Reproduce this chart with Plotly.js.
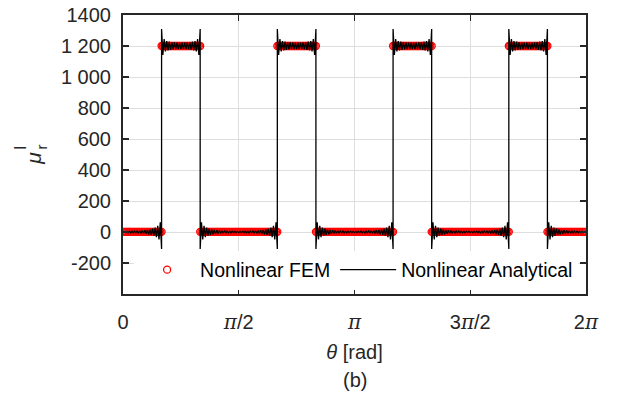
<!DOCTYPE html>
<html><head><meta charset="utf-8">
<script src="https://cdn.plot.ly/plotly-3.0.1.min.js"></script>
<style>html,body{margin:0;padding:0;background:#fff}</style>
</head><body><div id="chart" style="width:622px;height:396px"></div>
<script>
// rotor angle in degrees (axis labelled in radians); step angles appear twice (low and high side)
const theta = [
0,1,2,3,4,5,6,7,8,9,10,11,12,13,14,15,16,17,18,19,20,21,22,23,24,25,26,27,28,29,30,
30,31,32,33,34,35,36,37,38,39,40,41,42,43,44,45,46,47,48,49,50,51,52,53,54,55,56,57,58,59,60,
60,61,62,63,64,65,66,67,68,69,70,71,72,73,74,75,76,77,78,79,80,81,82,83,84,85,86,87,88,89,90,
91,92,93,94,95,96,97,98,99,100,101,102,103,104,105,106,107,108,109,110,111,112,113,114,115,116,117,118,119,120,
120,121,122,123,124,125,126,127,128,129,130,131,132,133,134,135,136,137,138,139,140,141,142,143,144,145,146,147,148,149,150,
150,151,152,153,154,155,156,157,158,159,160,161,162,163,164,165,166,167,168,169,170,171,172,173,174,175,176,177,178,179,180,
181,182,183,184,185,186,187,188,189,190,191,192,193,194,195,196,197,198,199,200,201,202,203,204,205,206,207,208,209,210,
210,211,212,213,214,215,216,217,218,219,220,221,222,223,224,225,226,227,228,229,230,231,232,233,234,235,236,237,238,239,240,
240,241,242,243,244,245,246,247,248,249,250,251,252,253,254,255,256,257,258,259,260,261,262,263,264,265,266,267,268,269,270,
271,272,273,274,275,276,277,278,279,280,281,282,283,284,285,286,287,288,289,290,291,292,293,294,295,296,297,298,299,300,
300,301,302,303,304,305,306,307,308,309,310,311,312,313,314,315,316,317,318,319,320,321,322,323,324,325,326,327,328,329,330,
330,331,332,333,334,335,336,337,338,339,340,341,342,343,344,345,346,347,348,349,350,351,352,353,354,355,356,357,358,359,360
];
const femMu = [
1,1,1,1,1,1,1,1,1,1,1,1,1,1,1,1,1,1,1,1,1,1,1,1,1,1,1,1,1,1,1,
1200,1200,1200,1200,1200,1200,1200,1200,1200,1200,1200,1200,1200,1200,1200,1200,1200,1200,1200,1200,1200,1200,1200,1200,1200,1200,1200,1200,1200,1200,1200,
1,1,1,1,1,1,1,1,1,1,1,1,1,1,1,1,1,1,1,1,1,1,1,1,1,1,1,1,1,1,1,
1,1,1,1,1,1,1,1,1,1,1,1,1,1,1,1,1,1,1,1,1,1,1,1,1,1,1,1,1,1,
1200,1200,1200,1200,1200,1200,1200,1200,1200,1200,1200,1200,1200,1200,1200,1200,1200,1200,1200,1200,1200,1200,1200,1200,1200,1200,1200,1200,1200,1200,1200,
1,1,1,1,1,1,1,1,1,1,1,1,1,1,1,1,1,1,1,1,1,1,1,1,1,1,1,1,1,1,1,
1,1,1,1,1,1,1,1,1,1,1,1,1,1,1,1,1,1,1,1,1,1,1,1,1,1,1,1,1,1,
1200,1200,1200,1200,1200,1200,1200,1200,1200,1200,1200,1200,1200,1200,1200,1200,1200,1200,1200,1200,1200,1200,1200,1200,1200,1200,1200,1200,1200,1200,1200,
1,1,1,1,1,1,1,1,1,1,1,1,1,1,1,1,1,1,1,1,1,1,1,1,1,1,1,1,1,1,1,
1,1,1,1,1,1,1,1,1,1,1,1,1,1,1,1,1,1,1,1,1,1,1,1,1,1,1,1,1,1,
1200,1200,1200,1200,1200,1200,1200,1200,1200,1200,1200,1200,1200,1200,1200,1200,1200,1200,1200,1200,1200,1200,1200,1200,1200,1200,1200,1200,1200,1200,1200,
1,1,1,1,1,1,1,1,1,1,1,1,1,1,1,1,1,1,1,1,1,1,1,1,1,1,1,1,1,1,1
];
const anaMu = [
-4,4,-4,4,-5,5,-5,5,-6,6,-6,7,-7,8,-8,9,-10,11,-12,13,-15,17,-19,22,-25,29,-34,40,-48,62,-110,
1310,1142,1245,1165,1232,1172,1228,1175,1225,1178,1223,1180,1222,1180,1221,1180,1221,1180,1222,1180,1223,1178,1225,1175,1228,1172,1232,1165,1245,1142,1310,
-110,62,-48,40,-34,29,-25,22,-19,17,-15,13,-12,11,-10,9,-8,8,-7,7,-6,6,-6,5,-5,5,-5,4,-4,4,
-4,4,-4,4,-5,5,-5,5,-6,6,-6,7,-7,8,-8,9,-10,11,-12,13,-15,17,-19,22,-25,29,-34,40,-48,62,-110,
1310,1142,1245,1165,1232,1172,1228,1175,1225,1178,1223,1180,1222,1180,1221,1180,1221,1180,1222,1180,1223,1178,1225,1175,1228,1172,1232,1165,1245,1142,1310,
-110,62,-48,40,-34,29,-25,22,-19,17,-15,13,-12,11,-10,9,-8,8,-7,7,-6,6,-6,5,-5,5,-5,4,-4,4,
-4,4,-4,4,-5,5,-5,5,-6,6,-6,7,-7,8,-8,9,-10,11,-12,13,-15,17,-19,22,-25,29,-34,40,-48,62,-110,
1310,1142,1245,1165,1232,1172,1228,1175,1225,1178,1223,1180,1222,1180,1221,1180,1221,1180,1222,1180,1223,1178,1225,1175,1228,1172,1232,1165,1245,1142,1310,
-110,62,-48,40,-34,29,-25,22,-19,17,-15,13,-12,11,-10,9,-8,8,-7,7,-6,6,-6,5,-5,5,-5,4,-4,4,
-4,4,-4,4,-5,5,-5,5,-6,6,-6,7,-7,8,-8,9,-10,11,-12,13,-15,17,-19,22,-25,29,-34,40,-48,62,-110,
1310,1142,1245,1165,1232,1172,1228,1175,1225,1178,1223,1180,1222,1180,1221,1180,1221,1180,1222,1180,1223,1178,1225,1175,1228,1172,1232,1165,1245,1142,1310,
-110,62,-48,40,-34,29,-25,22,-19,17,-15,13,-12,11,-10,9,-8,8,-7,7,-6,6,-6,5,-5,5,-5,4,-4,4,-4
];
const seriesNames = ['Nonlinear FEM', 'Nonlinear Analytical'];
const PI = '<span style="font-family:\'DejaVu Serif\';font-style:italic">π</span>';
const xTickVals = [0, 90, 180, 270, 360];
const xTickText = ['0', PI + '/2', PI, '3' + PI + '/2', '2' + PI];
const yTickVals = [-200, 0, 200, 400, 600, 800, 1000, 1200, 1400];
const yTickText = ['-200', '0', '200', '400', '600', '800', '1 000', '1 200', '1400'];

const FONT = 'Liberation Sans, Arial, sans-serif';
const INK = '#262626';

const traces = [
  {x: theta, y: femMu, name: seriesNames[0], type: 'scatter', mode: 'markers',
   marker: {symbol: 'circle-open', size: 7, color: '#ff0000', line: {width: 1.3, color: '#ff0000'}}},
  {x: theta, y: anaMu, name: seriesNames[1], type: 'scatter', mode: 'lines',
   line: {color: '#000000', width: 1.3, simplify: false}}
];

const axisCommon = {
  showline: true, linecolor: INK, linewidth: 2, mirror: 'ticks',
  ticks: 'inside', ticklen: 6, tickwidth: 1.3, tickcolor: INK,
  showgrid: true, gridcolor: '#dedede', gridwidth: 1, zeroline: false,
  tickfont: {family: FONT, size: 20, color: INK}
};

const layout = {
  width: 622, height: 396,
  margin: {l: 123, r: 36, t: 15, b: 102},
  paper_bgcolor: '#ffffff', plot_bgcolor: '#ffffff',
  font: {family: FONT, color: INK},
  showlegend: true,
  legend: {orientation: 'h', x: 0.024, xanchor: 'left', y: 0.086, yanchor: 'middle',
           bgcolor: '#ffffff', borderwidth: 0, itemwidth: 56,
           font: {family: FONT, size: 19.5, color: '#000000'}},
  xaxis: Object.assign({}, axisCommon, {
    range: [0, 360], tickmode: 'array', tickvals: xTickVals, ticktext: xTickText,
    ticklabelstandoff: 9,
    title: {text: '<i>θ</i> [rad]', font: {family: FONT, size: 20, color: INK}, standoff: 12}
  }),
  yaxis: Object.assign({}, axisCommon, {
    range: [-400, 1400], tickmode: 'array', tickvals: yTickVals, ticktext: yTickText,
    ticklabelstandoff: 6
  }),
  annotations: [
    {text: '<i>μ</i>', xref: 'paper', yref: 'paper', x: -0.195, y: 0.487, xanchor: 'center', yanchor: 'middle',
     textangle: -90, showarrow: false, font: {family: FONT, size: 21, color: INK}},
    {text: 'r', xref: 'paper', yref: 'paper', x: -0.174, y: 0.527, xanchor: 'center', yanchor: 'middle',
     textangle: -90, showarrow: false, font: {family: FONT, size: 15, color: INK}},
    {text: 'l', xref: 'paper', yref: 'paper', x: -0.222, y: 0.525, xanchor: 'center', yanchor: 'middle',
     textangle: -90, showarrow: false, font: {family: FONT, size: 17, color: INK}},
    {text: '(b)', xref: 'paper', yref: 'paper', x: 0.5, y: -0.308, xanchor: 'center', yanchor: 'middle',
     showarrow: false, font: {family: FONT, size: 20, color: INK}}
  ]
};

Plotly.newPlot('chart', traces, layout, {displayModeBar: false, staticPlot: true});
</script>
</body></html>
